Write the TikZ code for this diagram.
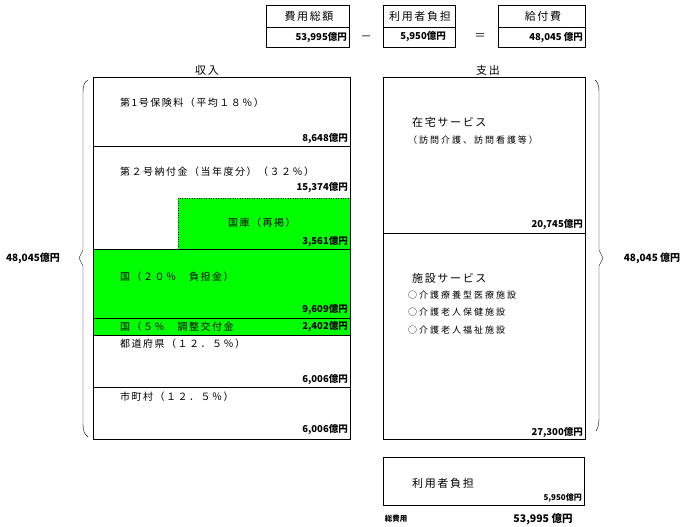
\documentclass[tikz,border=0pt]{standalone}
\usepackage{fontspec}
\setmainfont{Noto Sans CJK JP}
\usepackage{xcolor}
\usepackage{tikz}
\definecolor{kokkogreen}{HTML}{00FF00}

\tikzset{
  lbl/.style={anchor=west, inner sep=0pt, font=\fontsize{10}{12}\selectfont\addfontfeatures{LetterSpace=15}},
  sublbl/.style={anchor=west, inner sep=0pt, font=\fontsize{9}{10}\selectfont\addfontfeatures{LetterSpace=22}},
  amount/.style={anchor=east, inner sep=0pt, font=\bfseries\fontsize{9.5}{11}\selectfont},
  headlbl/.style={inner sep=0pt, font=\fontsize{11}{13}\selectfont\addfontfeatures{LetterSpace=15}},
  sumlbl/.style={inner sep=0pt, font=\bfseries\fontsize{10}{12}\selectfont}
}

\begin{document}
\begin{tikzpicture}[x=1pt, y=-1pt]
    \useasboundingbox (0,0) rectangle (685,527);

    % Summary boxes on top
    \draw (266,5) rectangle (349,47);
    \draw (266,27) -- (349,27);
    \node[headlbl] (sogaku) at (309,16) {費用総額};
    \node[amount] (sogakuv) at (347,38) {53,995億円};
    \node[headlbl] (minus) at (366,38) {－};

    \draw (383,5) rectangle (455,47);
    \draw (383,27) -- (455,27);
    \node[headlbl] (riyo) at (420,16) {利用者負担};
    \node[amount] (riyov) at (446,37) {5,950億円};
    \node[headlbl] (equal) at (480,37) {＝};

    \draw (498,5) rectangle (585,47);
    \draw (498,27) -- (585,27);
    \node[headlbl] (kyufu) at (543,16) {給付費};
    \node[amount] (kyufuv) at (583,38) {48,045 億円};

    % Revenue column
    \node[headlbl] (shunyu) at (207,70) {収入};
    \fill[kokkogreen] (178,198) rectangle (350,249);
    \fill[kokkogreen] (93,249) rectangle (350,335);
    \draw[dotted] (178,249) -- (178,198) -- (350,198);
    \draw (93,77) rectangle (350,439);
    \foreach \y in {146,249,318,335,387}
        \draw (93,\y) -- (350,\y);

    \node[lbl] (dai1) at (120,103) {第1号保険料（平均１８％）};
    \node[amount] (dai1v) at (348,139) {8,648億円};
    \node[lbl] (dai2) at (120,172) {第２号納付金（当年度分）（３２％）};
    \node[amount] (dai2v) at (348,188) {15,374億円};
    \node[lbl] (kokko) at (228,223) {国庫（再掲）};
    \node[amount] (kokkov) at (348,242) {3,561億円};
    \node[lbl] (kuni20) at (120,277) {国（２０％　負担金）};
    \node[amount] (kuni20v) at (348,310) {9,609億円};
    \node[lbl] (kuni5) at (120,327) {国（５％　調整交付金};
    \node[amount] (kuni5v) at (348,327) {2,402億円};
    \node[lbl] (todofuken) at (120,344) {都道府県（１２．５％）};
    \node[amount] (todofukenv) at (348,380) {6,006億円};
    \node[lbl] (shichoson) at (120,397) {市町村（１２．５％）};
    \node[amount] (shichosonv) at (348,430) {6,006億円};

    % Expenditure column
    \node[headlbl] (shishutsu) at (488,70) {支出};
    \draw (383,77) rectangle (585,439);
    \draw (383,233) -- (585,233);
    \node[lbl, font=\fontsize{11}{13}\selectfont\addfontfeatures{LetterSpace=15}] (zaitaku) at (412,122) {在宅サービス};
    \node[sublbl] (zaitakusub) at (408,140) {（訪問介護、訪問看護等）};
    \node[amount] (zaitakuv) at (583,225) {20,745億円};
    \node[lbl, font=\fontsize{11}{13}\selectfont\addfontfeatures{LetterSpace=15}] (shisetsu) at (412,278) {施設サービス};
    \node[sublbl] (ryoyo) at (408,295) {○介護療養型医療施設};
    \node[sublbl] (hoken) at (408,312) {○介護老人保健施設};
    \node[sublbl] (fukushi) at (408,330) {○介護老人福祉施設};
    \node[amount] (shisetsuv) at (583,433) {27,300億円};

    % User share
    \draw (383,457) rectangle (584,505);
    \node[lbl, font=\fontsize{11}{13}\selectfont\addfontfeatures{LetterSpace=15}] (futan) at (412,483) {利用者負担};
    \node[amount, font=\bfseries\fontsize{8}{9}\selectfont] (futanv) at (582,498) {5,950億円};
    \node[sumlbl, font=\bfseries\fontsize{7.5}{9}\selectfont] (sohiyo) at (396,519) {総費用};
    \node[sumlbl, font=\bfseries\fontsize{10.5}{12}\selectfont] (sohiyov) at (543,519) {53,995 億円};

    % Braces
    \draw (88,80) .. controls (84,82) and (83,86) .. (83,92) -- (83,250)
        -- (79,258) -- (83,266) -- (83,424) .. controls (83,430) and (84,434) .. (88,437);
    \node[sumlbl] (kyufuleft) at (33,258) {48,045億円};
    \draw (595,80) .. controls (598,82) and (599,86) .. (599,92) -- (599,250)
        -- (603,258) -- (599,266) -- (599,418) .. controls (599,424) and (598,428) .. (596,431);
    \node[sumlbl] (kyufuright) at (652,258) {48,045 億円};
\end{tikzpicture}
\end{document}
